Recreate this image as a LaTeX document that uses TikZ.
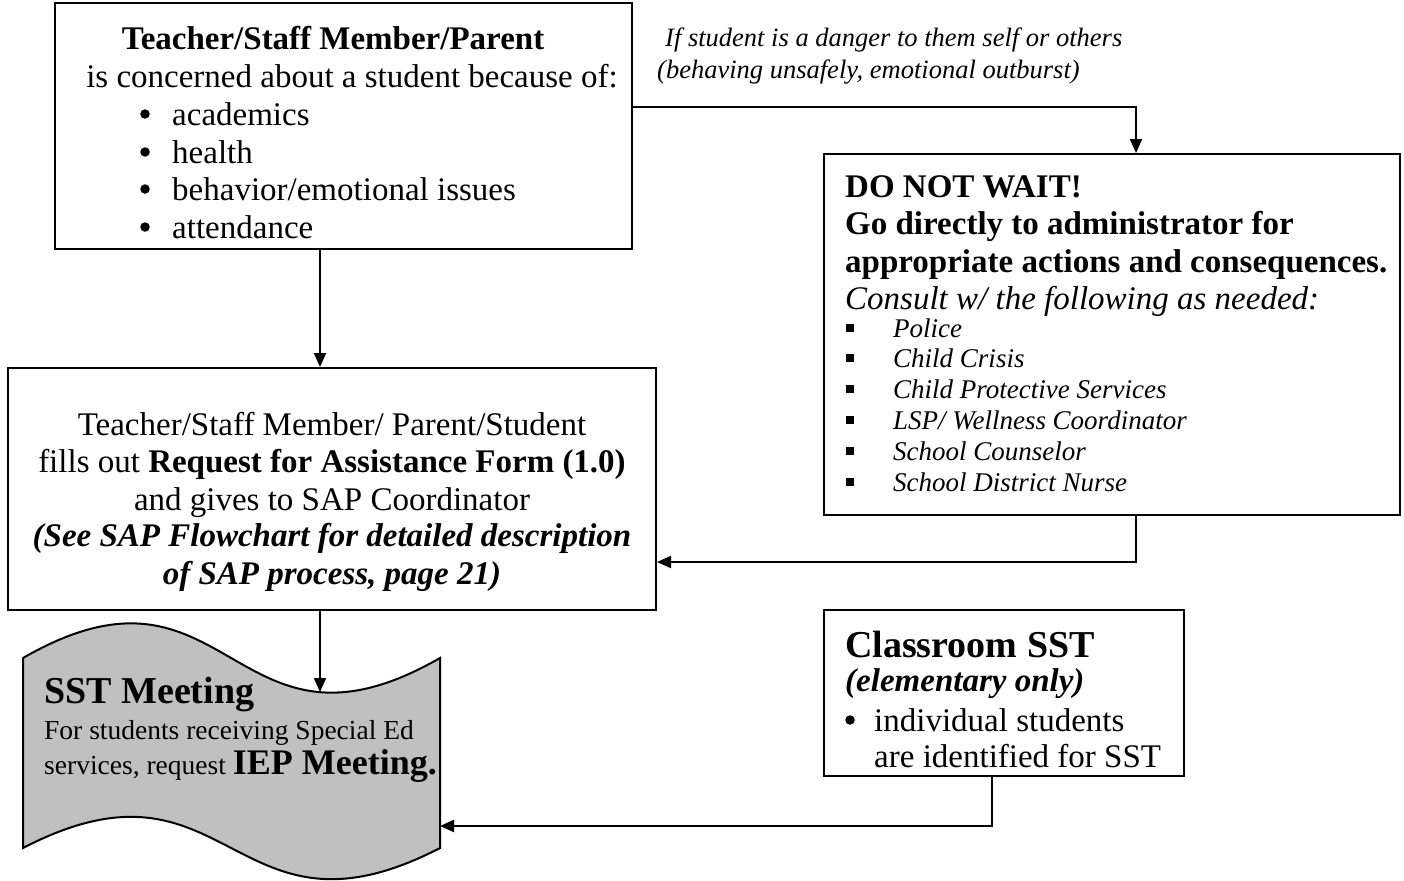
\documentclass[tikz,border=0pt]{standalone}
\usepackage{fontspec}
\setmainfont{Liberation Serif}
\usetikzlibrary{arrows.meta}
\definecolor{wavegray}{RGB}{192,192,192}
\newcommand\fmain{\fontsize{33}{37.5}\selectfont}
\newcommand\fsml{\fontsize{27}{31}\selectfont}
\newcommand\flab{\fontsize{26.5}{31}\selectfont}
\newcommand\fbig{\fontsize{38}{42}\selectfont}
\begin{document}
\begin{tikzpicture}[x=1pt,y=-1pt,
  box/.style={draw, line width=2pt, inner sep=0pt, fill=white},
  arr/.style={line width=2pt, -{Triangle[length=14pt,width=12pt]}},
  tl/.style={inner sep=0pt, anchor=base west},
  tc/.style={inner sep=0pt, anchor=base},
  dot/.style={circle, fill, inner sep=0pt, minimum size=9.5pt},
  sqb/.style={fill, inner sep=0pt, minimum size=7.5pt}]
\useasboundingbox (0,0) rectangle (1404,880);

% boxes
\node[box, minimum width=577pt, minimum height=246pt] (A) at (343.5,126) {};
\node[box, minimum width=576pt, minimum height=361pt] (B) at (1112,334.5) {};
\node[box, minimum width=648pt, minimum height=242pt] (C) at (332,489) {};
\node[box, minimum width=360pt, minimum height=166pt] (D) at (1004,693) {};

% wave shape
\draw[line width=2pt, fill=wavegray] (23,658) .. controls (231,538) and (231,778) .. (440,658)
  -- (440,848) .. controls (231,956) and (231,740) .. (23,848) -- cycle;
\coordinate (wt) at (320,692);
\coordinate (we) at (440,826);

% box A text
\node[tc, font=\fmain\bfseries] (a1) at (333,50) {Teacher/Staff Member/Parent};
\node[tc, font=\fmain] (a2) at (352,88) {is concerned about a student because of:};
\node[dot] (b1) at (145,114) {};
\node[dot] (b2) at (145,152) {};
\node[dot] (b3) at (145,189) {};
\node[dot] (b4) at (145,227) {};
\node[tl, font=\fmain] (a3) at (172,125) {academics};
\node[tl, font=\fmain] (a4) at (172,163) {health};
\node[tl, font=\fmain] (a5) at (172,200) {behavior/emotional issues};
\node[tl, font=\fmain] (a6) at (172,238) {attendance};

% label
\node[tl, font=\flab\itshape] (l1) at (665,47) {If student is a danger to them self or others};
\node[tl, font=\flab\itshape] (l2) at (657,79) {(behaving unsafely, emotional outburst)};

% box B text
\node[tl, font=\fmain\bfseries] (c1) at (845,197) {DO NOT WAIT!};
\node[tl, font=\fmain\bfseries] (c2) at (845,234) {Go directly to administrator for};
\node[tl, font=\fmain\bfseries] (c3) at (845,272) {appropriate actions and consequences.};
\node[tl, font=\fmain\itshape] (c4) at (845,309) {Consult w/ the following as needed:};
\node[sqb] (s1) at (850,328) {};
\node[sqb] (s2) at (850,358) {};
\node[sqb] (s3) at (850,389) {};
\node[sqb] (s4) at (850,420) {};
\node[sqb] (s5) at (850,451) {};
\node[sqb] (s6) at (850,482) {};
\node[tl, font=\fsml\itshape] (d1) at (893,337) {Police};
\node[tl, font=\fsml\itshape] (d2) at (893,367) {Child Crisis};
\node[tl, font=\fsml\itshape] (d3) at (893,398) {Child Protective Services};
\node[tl, font=\fsml\itshape] (d4) at (893,429) {LSP/ Wellness Coordinator};
\node[tl, font=\fsml\itshape] (d5) at (893,460) {School Counselor};
\node[tl, font=\fsml\itshape] (d6) at (893,491) {School District Nurse};

% box C text
\node[tc, font=\fmain] (e1) at (332,435) {Teacher/Staff Member/ Parent/Student};
\node[tc, font=\fmain] (e2) at (332,472) {fills out \textbf{Request for Assistance Form (1.0)}};
\node[tc, font=\fmain] (e3) at (332,510) {and gives to SAP Coordinator};
\node[tc, font=\fmain\bfseries\itshape] (e4) at (332,546) {(See SAP Flowchart for detailed description};
\node[tc, font=\fmain\bfseries\itshape] (e5) at (332,584) {of SAP process, page 21)};

% wave text
\node[tl, font=\fbig\bfseries] (w1) at (44,703) {SST Meeting};
\node[tl, font=\fontsize{27.5}{31}\selectfont] (w2) at (44,739) {For students receiving Special Ed};
\node[tl, font=\fontsize{27.5}{31}\selectfont] (w3) at (44,774) {services, request {\fontsize{36}{40}\selectfont\bfseries IEP Meeting.}};

% box D text
\node[tl, font=\fbig\bfseries] (f1) at (845,657) {Classroom SST};
\node[tl, font=\fmain\bfseries\itshape] (f2) at (845,691) {(elementary only)};
\node[dot] (fb) at (850,720) {};
\node[tl, font=\fmain] (f3) at (874,731) {individual students};
\node[tl, font=\fmain] (f4) at (874,767) {are identified for SST};

% connectors
\draw[arr] ([yshift=19pt]A.east) -| ([xshift=24pt]B.north);
\draw[arr] ([xshift=-23.5pt]A.south) -- ([xshift=-23.5pt]A.south |- C.north);
\draw[arr] ([xshift=24pt]B.south) |- ([yshift=-73pt]C.east);
\draw[arr] ([xshift=-12pt]C.south) -- (wt);
\draw[arr] ([xshift=-12pt]D.south) |- (we);
\end{tikzpicture}
\end{document}
